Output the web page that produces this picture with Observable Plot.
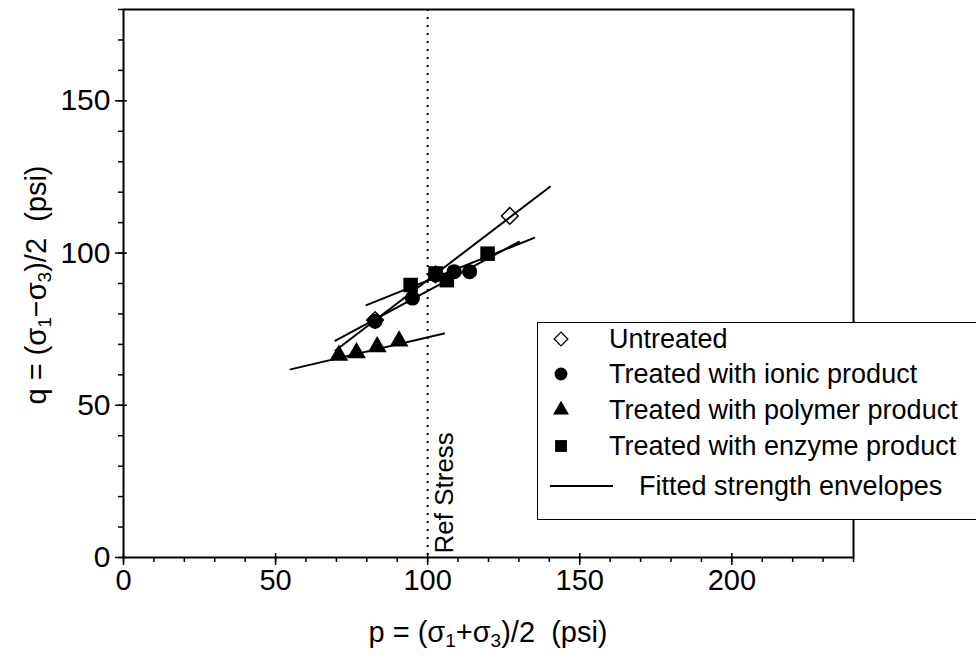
<!DOCTYPE html>
<html><head><meta charset="utf-8">
<script src="https://cdn.jsdelivr.net/npm/d3@7"></script>
<script src="https://cdn.jsdelivr.net/npm/@observablehq/plot@0.6"></script>
<style>
body{margin:0;background:#fff;font-family:"Liberation Sans",Arial,sans-serif;overflow:hidden;}
#wrap{position:relative;width:976px;height:662px;overflow:hidden;}
#legend{position:absolute;left:537px;top:322px;width:460px;height:198px;border:1.5px solid #000;background:#fff;box-sizing:border-box;}
.row{position:absolute;height:30px;line-height:30px;font-size:27px;white-space:nowrap;color:#000;}
.sym{position:absolute;}
</style></head><body><div id="wrap"></div>
<script>
// ---- data ----
const untreatedP = [82.7, 102.6, 127.0];
const untreatedQ = [78.0, 93.0, 112.2];
const ionicP = [82.7, 95.0, 102.6, 108.7, 113.8];
const ionicQ = [77.6, 85.2, 92.8, 93.9, 93.9];
const polymerP = [70.8, 76.6, 83.4, 90.6];
const polymerQ = [66.4, 67.2, 69.2, 71.1];
const enzymeP = [94.4, 102.6, 106.3, 119.7];
const enzymeQ = [89.5, 93.3, 91.1, 99.8];

// fitted strength envelopes (end points)
const untreatedFitP = [69.7, 140.2];
const untreatedFitQ = [68.0, 121.8];
const ionicFitP = [69.7, 130.0];
const ionicFitQ = [71.2, 103.7];
const polymerFitP = [54.9, 105.4];
const polymerFitQ = [61.8, 73.6];
const enzymeFitP = [79.9, 135.0];
const enzymeFitQ = [82.9, 105.0];

const refP = [100];
const refLabel = ["Ref Stress"];

const xMajor = [0, 50, 100, 150, 200];
const xMinor = d3.range(0, 241, 10);
const yMajor = [0, 50, 100, 150];
const yMinor = d3.range(0, 181, 10);

const legendLabels = ["Untreated", "Treated with ionic product", "Treated with polymer product", "Treated with enzyme product", "Fitted strength envelopes"];

// ---- tables ----
const rows = (P, Q, s) => P.map((p, i) => ({p, q: Q[i], s}));
const fits = [
  ...rows(untreatedFitP, untreatedFitQ, "u"),
  ...rows(ionicFitP, ionicFitQ, "i"),
  ...rows(polymerFitP, polymerFitQ, "p"),
  ...rows(enzymeFitP, enzymeFitQ, "e")
];

const FONT = '"Liberation Sans", Arial, sans-serif';
const chart = Plot.plot({
  width: 976, height: 662,
  marginLeft: 123, marginRight: 123, marginTop: 9, marginBottom: 105,
  style: {fontFamily: FONT, color: "black", background: "white"},
  x: {domain: [0, 240]},
  y: {domain: [0, 180]},
  marks: [
    Plot.ruleX(refP, {stroke: "black", strokeWidth: 2, strokeDasharray: "2,6"}),
    Plot.text(refLabel, {x: () => refP[0], frameAnchor: "bottom", text: d => d, rotate: -90, textAnchor: "start", dx: 25, dy: -4, fontSize: 26, fill: "black"}),
    Plot.line(fits, {x: "p", y: "q", z: "s", stroke: "black", strokeWidth: 2}),
    Plot.dot(rows(polymerP, polymerQ, "p"), {x: "p", y: "q", symbol: "triangle", fill: "black", r: 7}),
    Plot.dot(rows(untreatedP, untreatedQ, "u"), {x: "p", y: "q", symbol: "diamond2", fill: "none", stroke: "black", strokeWidth: 1.5, r: 7.5}),
    Plot.dot(rows(ionicP, ionicQ, "i"), {x: "p", y: "q", symbol: "circle", fill: "black", r: 7.5}),
    Plot.dot(rows(enzymeP, enzymeQ, "e"), {x: "p", y: "q", symbol: "square", fill: "black", r: 8.2}),
    Plot.axisX({ticks: xMinor, tickSize: 5, text: null, strokeWidth: 1.5, label: null}),
    Plot.axisX({ticks: xMajor, tickSize: 12, dy: -4, text: null, strokeWidth: 1.5, label: null}),
    Plot.axisX({ticks: xMajor, tickSize: 0, tickPadding: 12, fontSize: 29, label: null, tickFormat: d => d}),
    Plot.axisY({ticks: yMinor, tickSize: 5, text: null, strokeWidth: 1.5, label: null}),
    Plot.axisY({ticks: yMajor, tickSize: 12, dx: 4, text: null, strokeWidth: 1.5, label: null}),
    Plot.axisY({ticks: yMajor, tickSize: 0, tickPadding: 13, fontSize: 30, label: null, tickFormat: d => d}),
    Plot.frame({stroke: "black", strokeWidth: 2})
  ]
});
document.getElementById("wrap").appendChild(chart);

// axis titles with subscripts
const svg = d3.select(chart);
function title(sel, parts) {
  parts.forEach(([t, sub]) => {
    const ts = sel.append("tspan").text(t);
    if (sub) ts.attr("font-size", 19).attr("baseline-shift", "-25%");
  });
}
const xt = svg.append("text").attr("x", 488).attr("y", 642).attr("text-anchor", "middle")
  .attr("font-size", 29).attr("font-family", FONT).style("white-space", "pre");
title(xt, [["p = (σ"], ["1", true], ["+σ"], ["3", true], [")/2  (psi)"]]);
const yt = svg.append("text").attr("transform", "translate(46,285) rotate(-90)").attr("text-anchor", "middle")
  .attr("font-size", 29).attr("font-family", FONT).style("white-space", "pre");
title(yt, [["q = (σ"], ["1", true], ["−σ"], ["3", true], [")/2  (psi)"]]);

// legend
const lg = document.createElement("div");
lg.id = "legend";
document.getElementById("wrap").appendChild(lg);
const centers = [16, 51, 87, 123, 163];
const symbols = [d3.symbolDiamond2, d3.symbolCircle, d3.symbolTriangle, d3.symbolSquare, null];
const symSize = [120, 130, 110, 140];
legendLabels.forEach((lab, i) => {
  const row = document.createElement("div");
  row.className = "row";
  row.style.top = (centers[i] - 15) + "px";
  row.style.left = (i === 4 ? 101 : 71) + "px";
  row.textContent = lab;
  lg.appendChild(row);
  const s = d3.create("svg").attr("class", "sym").attr("width", 70).attr("height", 24)
    .style("left", "10px").style("top", (centers[i] - 12) + "px");
  if (symbols[i]) {
    const path = d3.symbol(symbols[i], symSize[i])();
    const hollow = i === 0;
    s.append("path").attr("d", path).attr("transform", "translate(13,12)")
      .attr("fill", hollow ? "none" : "black").attr("stroke", hollow ? "black" : "none").attr("stroke-width", 1.3);
  } else {
    s.append("line").attr("x1", 2).attr("x2", 65).attr("y1", 12).attr("y2", 12).attr("stroke", "black").attr("stroke-width", 2);
  }
  lg.appendChild(s.node());
});
</script></body></html>
